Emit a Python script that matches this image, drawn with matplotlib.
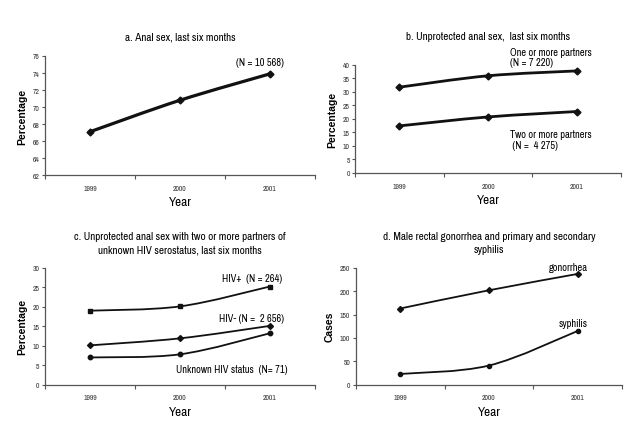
import matplotlib
matplotlib.use("Agg")
import matplotlib.pyplot as plt
import numpy as np
from matplotlib.path import Path
from matplotlib.patches import PathPatch

FAM = ['Archivo Narrow', 'Liberation Sans', 'DejaVu Sans']
plt.rcParams['font.family'] = FAM

years = ['1999', '2000', '2001']

# a. Anal sex, last six months
anal_sex = [67.1, 70.8, 73.9]
# b. Unprotected anal sex
one_or_more = [31.7, 35.9, 37.7]
two_or_more = [17.4, 20.7, 22.7]
# c. Unprotected with 2+ partners of unknown serostatus
hiv_pos = [19.0, 20.1, 25.2]
hiv_neg = [10.1, 11.9, 15.1]
hiv_unknown = [7.0, 7.8, 13.2]
# d. Cases
gonorrhea = [163, 202, 237]
syphilis = [23, 41, 115]

fig = plt.figure(figsize=(6.4, 4.35), dpi=100)

def smooth_line(ax, ys, lw, marker, ms):
    xs = np.arange(len(ys), dtype=float)
    pts = np.column_stack([xs, np.asarray(ys, float)])
    verts = [tuple(pts[0])]
    codes = [Path.MOVETO]
    n = len(pts)
    for i in range(n - 1):
        p0 = pts[max(i - 1, 0)]
        p1 = pts[i]
        p2 = pts[i + 1]
        p3 = pts[min(i + 2, n - 1)]
        c1 = p1 + (p2 - p0) / 6.0
        c2 = p2 - (p3 - p1) / 6.0
        verts += [tuple(c1), tuple(c2), tuple(p2)]
        codes += [Path.CURVE4] * 3
    ax.add_patch(PathPatch(Path(verts, codes), facecolor='none', edgecolor='#111111', lw=lw, capstyle='round', joinstyle='round'))
    ax.plot(xs, ys, linestyle='none', marker=marker, ms=ms, color='#111111', mec='#111111')

def setup(ax, ylim, yticks, ylabel, title, title_y):
    ax.set_xlim(-0.5, 2.5)
    ax.set_ylim(*ylim)
    ax.set_yticks(yticks)
    ax.set_xticks([-0.5, 0.5, 1.5, 2.5])
    ax.set_xticklabels([])
    ax.set_xticks([0, 1, 2], minor=True)
    ax.set_xticklabels(years, minor=True)
    ax.tick_params(axis='x', which='minor', length=0, labelsize=5.5, pad=7, colors='#333333')
    ax.tick_params(axis='x', which='major', length=3, direction='out', color='#555555')
    ax.tick_params(axis='y', length=2.5, direction='out', labelsize=5.5, pad=1.5, colors='#333333', color='#555555')
    for s in ['top', 'right']:
        ax.spines[s].set_visible(False)
    for s in ['left', 'bottom']:
        ax.spines[s].set_color('#555555')
        ax.spines[s].set_linewidth(0.9)
    ax.set_xlabel('Year', fontsize=9.5, labelpad=4)
    ax.set_ylabel(ylabel, fontsize=7.5, fontweight='bold', labelpad=4, family=['Liberation Sans', 'DejaVu Sans'])
    ax.set_title(title, fontsize=8, y=title_y, linespacing=1.45)

# Panel a
ax = fig.add_axes([0.0703, 0.595, 0.4217, 0.274])
setup(ax, (62, 76), range(62, 77, 2), 'Percentage', 'a. Anal sex, last six months', 1.07)
smooth_line(ax, anal_sex, 2.3, 'D', 3.5)
ax.text(1.89, 75.3, '(N = 10 568)', fontsize=7.5, ha='center', va='center')

# Panel b
ax = fig.add_axes([0.555, 0.600, 0.415, 0.249])
setup(ax, (0, 40), range(0, 41, 5), 'Percentage', 'b. Unprotected anal sex,  last six months', 1.16)
smooth_line(ax, one_or_more, 2.0, 'D', 3.5)
smooth_line(ax, two_or_more, 2.0, 'D', 3.5)
ax.text(1.25, 44.7, 'One or more partners', fontsize=7.5, va='center', clip_on=False)
ax.text(1.25, 41.0, '(N = 7 220)', fontsize=7.5, va='center', clip_on=False)
ax.text(1.25, 14.4, 'Two or more partners', fontsize=7.5, va='center')
ax.text(1.25, 10.3, ' (N =  4 275)', fontsize=7.5, va='center')

# Panel c
ax = fig.add_axes([0.0703, 0.1133, 0.4217, 0.2687])
setup(ax, (0, 30), range(0, 31, 5), 'Percentage',
      'c. Unprotected anal sex with two or more partners of\nunknown HIV serostatus, last six months', 1.06)
smooth_line(ax, hiv_pos, 1.3, 's', 3.5)
smooth_line(ax, hiv_neg, 1.3, 'D', 3.0)
smooth_line(ax, hiv_unknown, 1.3, 'o', 3.2)
ax.text(1.47, 27.4, 'HIV+  (N = 264)', fontsize=7.5, va='center')
ax.text(1.43, 17.1, 'HIV- (N =  2 656)', fontsize=7.5, va='center')
ax.text(0.96, 4.0, 'Unknown HIV status  (N= 71)', fontsize=7.5, va='center')

# Panel d
ax = fig.add_axes([0.556, 0.1133, 0.416, 0.2687])
setup(ax, (0, 250), range(0, 251, 50), 'Cases',
      'd. Male rectal gonorrhea and primary and secondary\nsyphilis', 1.06)
smooth_line(ax, gonorrhea, 1.3, 'D', 3.0)
smooth_line(ax, syphilis, 1.3, 'o', 3.0)
ax.text(1.9, 251.5, 'gonorrhea', fontsize=7.5, ha='center', va='center', clip_on=False)
ax.text(1.95, 132, 'syphilis', fontsize=7.5, ha='center', va='center')

fig.savefig('out.png', dpi=100, facecolor='white')
